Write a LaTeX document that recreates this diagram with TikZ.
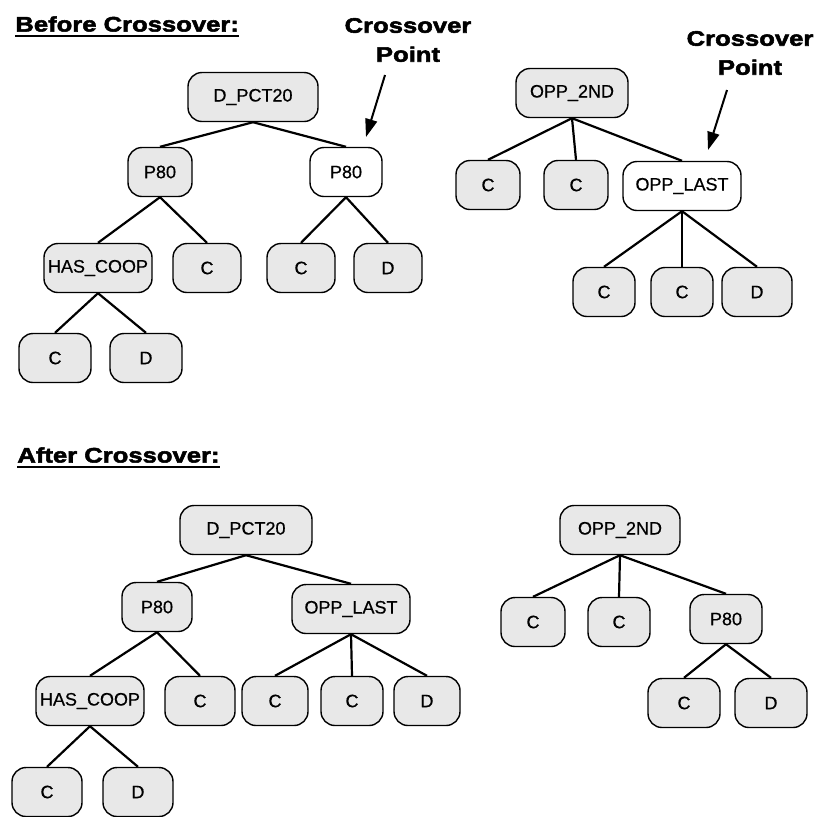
\documentclass[tikz,border=0pt]{standalone}
\usepackage{fontspec}
\setmainfont{Liberation Sans}
\newfontfamily\headfont{Liberation Sans}[FakeStretch=1.22,FakeBold=2.5]
\newfontfamily\boxfont{Liberation Sans}[FakeBold=0.6]
\usetikzlibrary{arrows.meta}

\begin{document}
\begin{tikzpicture}[x=0.5pt,y=-0.5pt,
  gnode/.style={draw=black,line width=0.7pt,fill=gray!18,rounded corners=7pt,
    minimum width=34pt,minimum height=24.5pt,inner xsep=2pt,
    font=\boxfont\fontsize{9}{10}\selectfont},
  wnode/.style={gnode,fill=white},
  head/.style={anchor=west,inner sep=0pt,font=\headfont\bfseries\fontsize{10.5}{12}\selectfont},
  cptext/.style={align=center,inner sep=0pt,font=\headfont\bfseries\fontsize{10.5}{14.5}\selectfont},
  edge/.style={line width=1.1pt},
  cparrow/.style={line width=1pt,-{Triangle[length=9pt,width=6pt]}},
  uline/.style={line width=1.3pt}]
\useasboundingbox (0,0) rectangle (817,816);

\draw (15,24) node[head] (t1) {Before Crossover:};
\draw[uline] ([yshift=-2pt]t1.south west) -- ([yshift=-2pt]t1.south east);
\draw (17,455) node[head] (t2) {After Crossover:};
\draw[uline] ([yshift=-2pt]t2.south west) -- ([yshift=-2pt]t2.south east);

\draw (408,40) node[cptext] (cp1) {Crossover\\Point};
\draw (750,53) node[cptext] (cp2) {Crossover\\Point};
\coordinate (cp1a) at (385,75);
\coordinate (cp1b) at (366,137);
\coordinate (cp2a) at (727,90);
\coordinate (cp2b) at (708,150);
\draw[cparrow] (cp1a) -- (cp1b);
\draw[cparrow] (cp2a) -- (cp2b);

\draw (253,97) node[gnode,minimum width=65pt] (d1) {D\_PCT20};
\draw (160,172) node[gnode,minimum width=32pt] (p1) {P80};
\draw (346,172) node[wnode,minimum width=36pt] (p2) {P80};
\draw (98,268) node[gnode,minimum width=54pt] (h1) {HAS\_COOP};
\draw (207,268) node[gnode] (c1) {C};
\draw (301,268) node[gnode] (c2) {C};
\draw (388,268) node[gnode] (d2) {D};
\draw (55,358) node[gnode,minimum width=36pt] (c3) {C};
\draw (146,358) node[gnode,minimum width=36pt] (d3) {D};

\draw (572,93) node[gnode,minimum width=56pt] (o1) {OPP\_2ND};
\draw (488,185) node[gnode,minimum width=32pt] (c4) {C};
\draw (576,185) node[gnode,minimum width=32pt] (c5) {C};
\draw (682,186) node[wnode,minimum width=59pt] (l1) {OPP\_LAST};
\draw (604,292) node[gnode,minimum width=31pt] (c6) {C};
\draw (682,292) node[gnode,minimum width=31pt] (c7) {C};
\draw (757,292) node[gnode,minimum width=35pt] (d4) {D};

\draw (246,530) node[gnode,minimum width=66pt] (d5) {D\_PCT20};
\draw (157,607) node[gnode,minimum width=35pt] (p3) {P80};
\draw (351,609) node[gnode,minimum width=59pt] (l2) {OPP\_LAST};
\draw (90,701) node[gnode,minimum width=53pt] (h2) {HAS\_COOP};
\draw (200,701) node[gnode,minimum width=35pt] (c8) {C};
\draw (275,701) node[gnode,minimum width=33pt] (c9) {C};
\draw (352,701) node[gnode,minimum width=31pt] (c10) {C};
\draw (427,701) node[gnode,minimum width=33pt] (d6) {D};
\draw (47,792) node[gnode,minimum width=35pt] (c11) {C};
\draw (138,792) node[gnode,minimum width=35pt] (d7) {D};

\draw (620,530) node[gnode,minimum width=60pt] (o2) {OPP\_2ND};
\draw (533,622) node[gnode,minimum width=32pt] (c12) {C};
\draw (619,622) node[gnode,minimum width=31pt] (c13) {C};
\draw (726,619) node[gnode,minimum width=36pt] (p4) {P80};
\draw (684,703) node[gnode,minimum width=36pt] (c14) {C};
\draw (771,703) node[gnode,minimum width=36pt] (d8) {D};

\foreach \a/\b in {d1/p1,d1/p2,p1/h1,p1/c1,p2/c2,p2/d2,h1/c3,h1/d3,
  o1/c4,o1/c5,o1/l1,l1/c6,l1/c7,l1/d4,
  d5/p3,d5/l2,p3/h2,p3/c8,l2/c9,l2/c10,l2/d6,h2/c11,h2/d7,
  o2/c12,o2/c13,o2/p4,p4/c14,p4/d8}
  \draw[edge] (\a.south) -- (\b.north);
\end{tikzpicture}
\end{document}
